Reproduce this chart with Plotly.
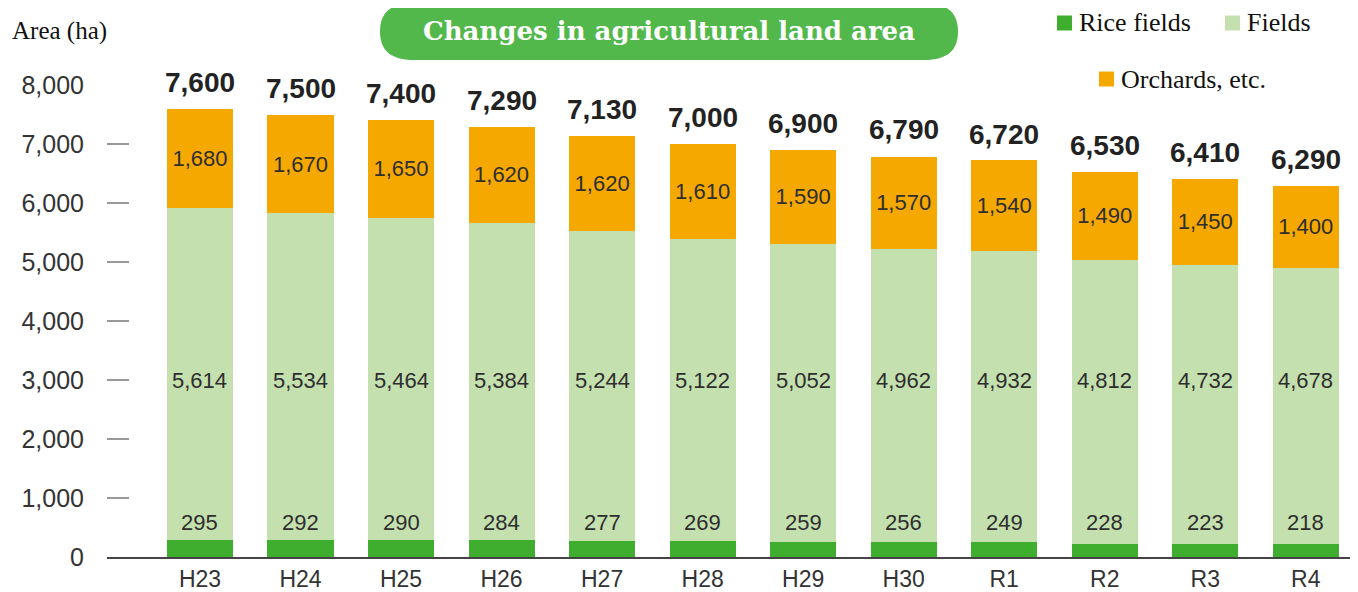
import plotly.graph_objects as go

categories = ["H23", "H24", "H25", "H26", "H27", "H28", "H29", "H30", "R1", "R2", "R3", "R4"]
rice_fields = [295, 292, 290, 284, 277, 269, 259, 256, 249, 228, 223, 218]
fields = [5614, 5534, 5464, 5384, 5244, 5122, 5052, 4962, 4932, 4812, 4732, 4678]
orchards = [1680, 1670, 1650, 1620, 1620, 1610, 1590, 1570, 1540, 1490, 1450, 1400]
totals = [7600, 7500, 7400, 7290, 7130, 7000, 6900, 6790, 6720, 6530, 6410, 6290]
y_ticks = [0, 1000, 2000, 3000, 4000, 5000, 6000, 7000, 8000]

series_names = ["Rice fields", "Fields", "Orchards, etc."]
colors = ["#3fae2e", "#c5e0af", "#f5a800"]
title_text = "Changes in agricultural land area"
y_title = "Area (ha)"

# label levels (style)
RICE_LABEL_Y = 590
FIELD_LABEL_Y = 3000

# page has an 8px body margin
OFF = 8
W_FIG, H_FIG = 1358, 592
PLOT_L, PLOT_R, PLOT_T, PLOT_B = 107, 1350, 85, 557   # page coords
L = PLOT_L - OFF
T = PLOT_T - OFF
R = W_FIG - (PLOT_R - OFF)
B = H_FIG - (PLOT_B - OFF)
PW = PLOT_R - PLOT_L
PH = PLOT_B - PLOT_T

def px(x):
    return (x - PLOT_L) / PW

def py(y):
    return (PLOT_B - y) / PH

SANS = "Liberation Sans, Arial, sans-serif"
SERIF = "Liberation Serif, Times New Roman, serif"
TXT = "#2e2e2e"

fig = go.Figure()
fig.add_trace(go.Bar(x=categories, y=rice_fields, name=series_names[0],
                     marker=dict(color=colors[0], line=dict(width=0)), showlegend=False))
fig.add_trace(go.Bar(x=categories, y=fields, name=series_names[1],
                     marker=dict(color=colors[1], line=dict(width=0)), showlegend=False))
fig.add_trace(go.Bar(x=categories, y=orchards, name=series_names[2],
                     marker=dict(color=colors[2], line=dict(width=0)), showlegend=False,
                     text=[f"{v:,}" for v in orchards], textposition="inside",
                     insidetextanchor="middle", textangle=0, constraintext="none",
                     insidetextfont=dict(family=SANS, size=22, color=TXT)))

annotations = []
for c, t, f, r in zip(categories, totals, fields, rice_fields):
    annotations.append(dict(x=c, y=t, xref="x", yref="y", text=f"{t:,}", showarrow=False,
                            yanchor="bottom", yshift=9,
                            font=dict(family=SANS, size=28, color="#222", weight="bold")))
    annotations.append(dict(x=c, y=FIELD_LABEL_Y, xref="x", yref="y", text=f"{f:,}", showarrow=False,
                            yanchor="middle", font=dict(family=SANS, size=22, color=TXT)))
    annotations.append(dict(x=c, y=RICE_LABEL_Y, xref="x", yref="y", text=f"{r:,}", showarrow=False,
                            yanchor="middle", font=dict(family=SANS, size=22, color=TXT)))

# y-axis title
annotations.append(dict(x=px(10), y=py(31), xref="paper", yref="paper", text=y_title,
                        showarrow=False, xanchor="left", yanchor="middle",
                        font=dict(family=SERIF, size=25, color="#111")))

# title pill
xl, xr, yt, yb, rr = 380, 958, 3, 60, 34
ym = (yt + yb) / 2
path = (f"M {px(xl+rr)},{py(yt)} L {px(xr-rr)},{py(yt)} "
        f"C {px(xr-rr*0.3)},{py(yt)} {px(xr)},{py(yt+10)} {px(xr)},{py(ym)} "
        f"C {px(xr)},{py(yb-10)} {px(xr-rr*0.3)},{py(yb)} {px(xr-rr)},{py(yb)} "
        f"L {px(xl+rr)},{py(yb)} "
        f"C {px(xl+rr*0.3)},{py(yb)} {px(xl)},{py(yb-10)} {px(xl)},{py(ym)} "
        f"C {px(xl)},{py(yt+10)} {px(xl+rr*0.3)},{py(yt)} {px(xl+rr)},{py(yt)} Z")
shapes = [dict(type="path", xref="paper", yref="paper", path=path,
               fillcolor="#52b84b", line=dict(width=0), layer="below")]
annotations.append(dict(x=px((xl + xr) / 2), y=py(ym), xref="paper", yref="paper", text=title_text,
                        showarrow=False, xanchor="center", yanchor="middle",
                        font=dict(family="DejaVu Serif, serif", size=26, color="white", weight="bold")))

# legend (manual)
legend_items = [(1057, 23, 0), (1225, 23, 1), (1099, 79, 2)]
for lx, ly, i in legend_items:
    shapes.append(dict(type="rect", xref="paper", yref="paper",
                       x0=px(lx), x1=px(lx + 15), y0=py(ly - 7.5), y1=py(ly + 7.5),
                       fillcolor=colors[i], line=dict(width=0)))
    annotations.append(dict(x=px(lx + 20), y=py(ly), xref="paper", yref="paper", text=series_names[i],
                            showarrow=False, xanchor="left", yanchor="middle",
                            font=dict(family=SERIF, size=26, color="#111")))

fig.update_layout(
    width=W_FIG, height=H_FIG,
    margin=dict(l=L, r=R, t=T, b=B, autoexpand=False),
    barmode="stack", bargap=0.343,
    plot_bgcolor="white", paper_bgcolor="white",
    shapes=shapes, annotations=annotations,
    showlegend=False,
    xaxis=dict(type="category", range=[-0.925, 11.44], showgrid=False, showline=True,
               linecolor="#444", linewidth=2, ticks="", ticklabelstandoff=0, automargin=False,
               tickfont=dict(family=SANS, size=23, color="#333")),
    yaxis=dict(range=[0, 8000], tickvals=y_ticks, ticktext=[f"{v:,}" for v in y_ticks],
               showgrid=False, zeroline=False, showline=False, automargin=False,
               ticks="inside", ticklen=22, tickwidth=1.5, tickcolor="#999",
               ticklabelstandoff=22, tickfont=dict(family=SANS, size=25, color="#333")),
)

fig.write_html("out.html")
